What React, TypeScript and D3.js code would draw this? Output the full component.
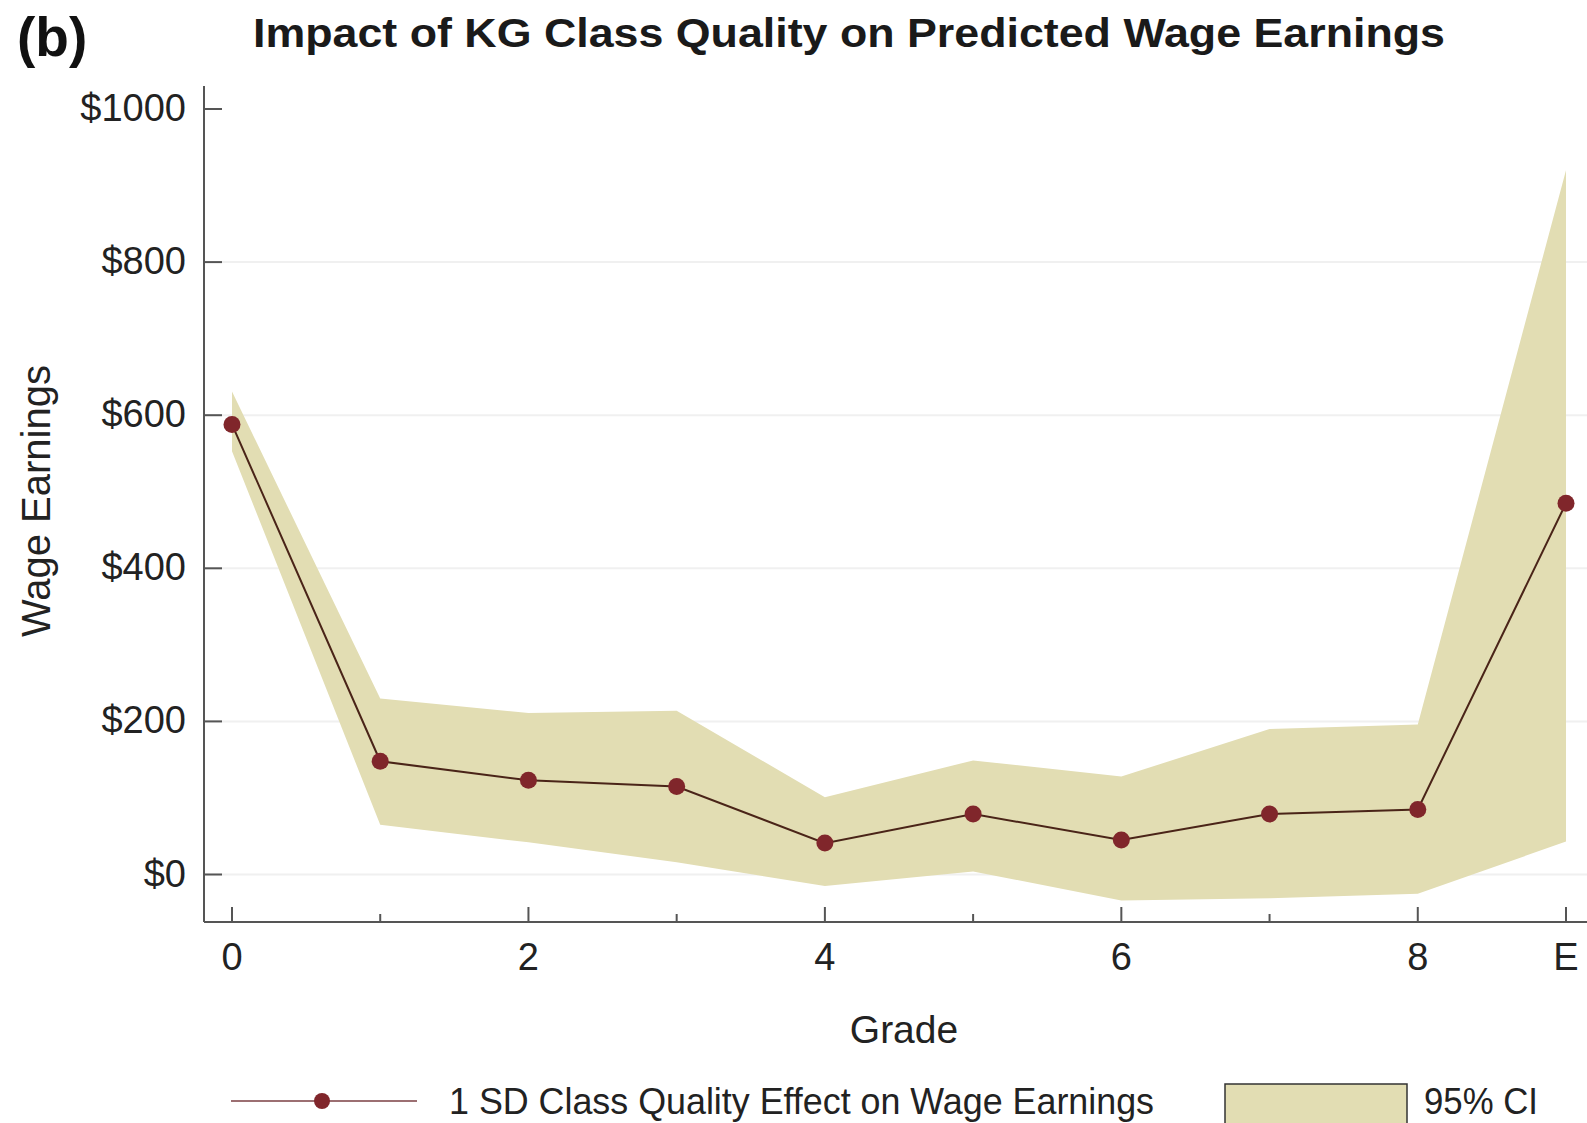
import * as d3 from "d3";
import { useEffect, useRef } from "react";

// grades on the x axis, "E" = post-schooling earnings
const grades = ["0", "1", "2", "3", "4", "5", "6", "7", "8", "E"];
const labelledGrades = ["0", "2", "4", "6", "8", "E"];

// 1 SD class quality effect on wage earnings ($)
const effect = [588, 148, 123, 115, 41, 79, 45, 79, 85, 485];
// 95% confidence band
const ciUpper = [631, 230, 211, 214, 101, 149, 128, 190, 196, 920];
const ciLower = [553, 65, 42, 16, -15, 4, -34, -31, -25, 43];

const yTicks = [0, 200, 400, 600, 800, 1000];
const gridTicks = [0, 200, 400, 600, 800];

export default function App() {
  const ref = useRef<SVGSVGElement>(null);

  useEffect(() => {
    document.body.style.margin = "0";
    const svg = d3.select(ref.current);
    svg.selectAll("*").remove();

    const width = 1587;
    const height = 1123;
    const font = "'Liberation Sans', Arial, sans-serif";
    const axisColor = "#555";
    const bandColor = "#e2ddb3";
    const dotColor = "#80262b";

    svg.attr("width", width).attr("height", height);

    const axisLeft = 204;
    const axisBottom = 922;

    const x = d3.scalePoint<string>().domain(grades).range([232, 1566]);
    const y = d3.scaleLinear().domain([0, 1000]).range([874.5, 109]);

    const rows = grades.map((g, i) => ({
      g,
      v: effect[i],
      lo: ciLower[i],
      hi: ciUpper[i],
    }));

    // grid (none at the top tick)
    svg.append("g")
      .selectAll("line")
      .data(gridTicks)
      .join("line")
      .attr("x1", axisLeft)
      .attr("x2", width)
      .attr("y1", d => y(d))
      .attr("y2", d => y(d))
      .attr("stroke", "#f0f0f0")
      .attr("stroke-width", 2);

    // confidence band
    const area = d3.area<any>()
      .x(d => x(d.g)!)
      .y0(d => y(d.lo))
      .y1(d => y(d.hi));

    svg.append("path")
      .datum(rows)
      .attr("d", area)
      .attr("fill", bandColor);

    // effect line + dots
    const line = d3.line<any>()
      .x(d => x(d.g)!)
      .y(d => y(d.v));

    svg.append("path")
      .datum(rows)
      .attr("d", line)
      .attr("fill", "none")
      .attr("stroke", "#4a2418")
      .attr("stroke-width", 2);

    svg.append("g")
      .selectAll("circle")
      .data(rows)
      .join("circle")
      .attr("cx", d => x(d.g)!)
      .attr("cy", d => y(d.v))
      .attr("r", 8.5)
      .attr("fill", dotColor);

    // axes
    svg.append("line")
      .attr("x1", axisLeft).attr("x2", axisLeft)
      .attr("y1", 86).attr("y2", axisBottom)
      .attr("stroke", axisColor).attr("stroke-width", 2);
    svg.append("line")
      .attr("x1", axisLeft).attr("x2", width)
      .attr("y1", axisBottom).attr("y2", axisBottom)
      .attr("stroke", axisColor).attr("stroke-width", 2);

    // y ticks (inward)
    const yt = svg.append("g").selectAll("g").data(yTicks).join("g");
    yt.append("line")
      .attr("x1", axisLeft).attr("x2", axisLeft + 18)
      .attr("y1", d => y(d)).attr("y2", d => y(d))
      .attr("stroke", axisColor).attr("stroke-width", 2);
    yt.append("text")
      .attr("x", 186)
      .attr("y", d => y(d) + 12)
      .attr("text-anchor", "end")
      .attr("font-family", font)
      .attr("font-size", 38)
      .attr("fill", "#222")
      .text(d => `$${d}`);

    // x ticks (inward, labelled ones longer)
    svg.append("g")
      .selectAll("line")
      .data(grades)
      .join("line")
      .attr("x1", d => x(d)!).attr("x2", d => x(d)!)
      .attr("y1", axisBottom)
      .attr("y2", d => axisBottom - (labelledGrades.includes(d) ? 15 : 8))
      .attr("stroke", axisColor).attr("stroke-width", 2);

    svg.append("g")
      .selectAll("text")
      .data(labelledGrades)
      .join("text")
      .attr("x", d => x(d)!)
      .attr("y", 970)
      .attr("text-anchor", "middle")
      .attr("font-family", font)
      .attr("font-size", 38)
      .attr("fill", "#222")
      .text(d => d);

    // axis titles
    svg.append("text")
      .attr("x", 904).attr("y", 1043)
      .attr("text-anchor", "middle")
      .attr("font-family", font).attr("font-size", 39)
      .attr("fill", "#222")
      .text("Grade");

    svg.append("text")
      .attr("transform", "translate(50,501) rotate(-90)")
      .attr("text-anchor", "middle")
      .attr("font-family", font).attr("font-size", 40)
      .attr("fill", "#222")
      .text("Wage Earnings");

    // title
    svg.append("text")
      .attr("x", 849).attr("y", 47)
      .attr("text-anchor", "middle")
      .attr("font-family", font).attr("font-size", 41)
      .attr("font-weight", "bold")
      .attr("fill", "#1a1a1a")
      .attr("textLength", 1192)
      .attr("lengthAdjust", "spacingAndGlyphs")
      .text("Impact of KG Class Quality on Predicted Wage Earnings");

    svg.append("text")
      .attr("x", 17).attr("y", 56)
      .attr("font-family", font).attr("font-size", 55)
      .attr("font-weight", "bold")
      .attr("fill", "#111")
      .text("(b)");

    // legend
    const ly = 1101;
    svg.append("line")
      .attr("x1", 231).attr("x2", 417)
      .attr("y1", ly).attr("y2", ly)
      .attr("stroke", "#9c6f72").attr("stroke-width", 2);
    svg.append("circle")
      .attr("cx", 322).attr("cy", ly).attr("r", 8)
      .attr("fill", dotColor);
    svg.append("text")
      .attr("x", 449).attr("y", ly + 13)
      .attr("font-family", font).attr("font-size", 37)
      .attr("fill", "#222")
      .attr("textLength", 705)
      .attr("lengthAdjust", "spacingAndGlyphs")
      .text("1 SD Class Quality Effect on Wage Earnings");

    svg.append("rect")
      .attr("x", 1225).attr("y", 1084)
      .attr("width", 182).attr("height", 60)
      .attr("fill", bandColor)
      .attr("stroke", "#333").attr("stroke-width", 1.5);
    svg.append("text")
      .attr("x", 1424).attr("y", ly + 13)
      .attr("font-family", font).attr("font-size", 37)
      .attr("fill", "#222")
      .attr("textLength", 114)
      .attr("lengthAdjust", "spacingAndGlyphs")
      .text("95% CI");
  }, []);

  return <svg ref={ref} style={{ display: "block" }}></svg>;
}
